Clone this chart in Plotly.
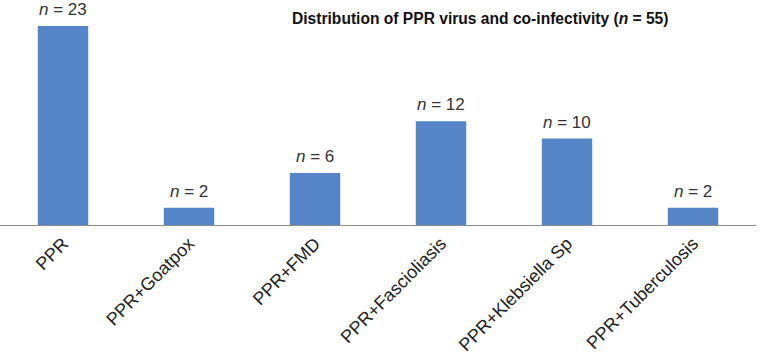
import plotly.graph_objects as go

categories = ["PPR", "PPR+Goatpox", "PPR+FMD", "PPR+Fascioliasis", "PPR+Klebsiella Sp", "PPR+Tuberculosis"]
counts = [23, 2, 6, 12, 10, 2]
title_text = "Distribution of PPR virus and co-infectivity (<i>n</i> = 55)"

fig = go.Figure()
fig.add_trace(go.Bar(
    x=categories, y=counts, width=0.4,
    marker=dict(color="#5584c7", line=dict(width=0)),
    cliponaxis=False,
))
for c, v in zip(categories, counts):
    fig.add_annotation(x=c, y=v, text=f"<i>n</i> = {v}", showarrow=False,
                       yanchor="bottom", yshift=6, borderpad=0,
                       font=dict(family="Liberation Sans, Arial", size=17, color="#333333"))
fig.add_annotation(x=0.635, y=1.0, xref="paper", yref="paper", text="<b>" + title_text + "</b>",
                   showarrow=False, xanchor="center", yanchor="middle", yshift=2,
                   font=dict(family="Liberation Sans, Arial", size=15.6, color="#111111"))

fig.update_layout(
    width=760, height=356,
    margin=dict(l=0, r=4, t=20, b=131),
    paper_bgcolor="white", plot_bgcolor="white",
    showlegend=False,
    xaxis=dict(showline=True, linecolor="#8c8c8c", linewidth=1, ticks="", tickangle=-45,
               automargin=False,
               tickfont=dict(family="Liberation Sans, Arial", size=18, color="#222222"),
               showgrid=False),
    yaxis=dict(range=[0, 23.7], visible=False, showgrid=False, automargin=False),
)
fig.write_html("out.html", config={"displayModeBar": False},
               post_script="document.body.style.margin='0';document.body.style.overflow='hidden';")
